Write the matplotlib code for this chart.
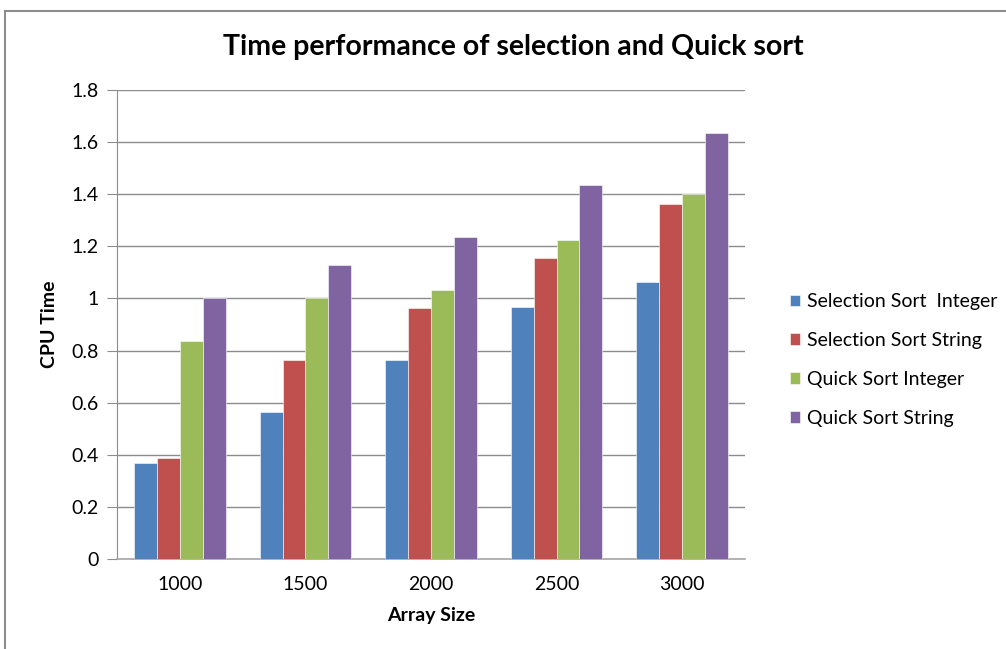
import numpy as np
import matplotlib.pyplot as plt
from matplotlib.lines import Line2D

plt.rcParams["font.family"] = ["Lato", "DejaVu Sans"]

# dane
sizes = ["1000", "1500", "2000", "2500", "3000"]
sel_int = [0.367, 0.564, 0.764, 0.967, 1.063]
sel_str = [0.386, 0.764, 0.963, 1.155, 1.362]
quick_int = [0.837, 1.0, 1.032, 1.224, 1.40]
quick_str = [1.0, 1.128, 1.236, 1.435, 1.636]
y_ticks = [0, 0.2, 0.4, 0.6, 0.8, 1.0, 1.2, 1.4, 1.6, 1.8]
y_labels = ["0", "0.2", "0.4", "0.6", "0.8", "1", "1.2", "1.4", "1.6", "1.8"]

series = [
    ("Selection Sort  Integer", sel_int, "#4F81BD"),
    ("Selection Sort String", sel_str, "#C0504D"),
    ("Quick Sort Integer", quick_int, "#9BBB59"),
    ("Quick Sort String", quick_str, "#8064A2"),
]

fig = plt.figure(figsize=(10.06, 6.49), dpi=100)
ax = fig.add_axes([117 / 1006, 1 - 559 / 649, 628 / 1006, 469 / 649])

x = np.arange(len(sizes))
width = 0.182
for i, (name, vals, col) in enumerate(series):
    ax.bar(x + (i - 1.5) * width, vals, width, color=col, label=name,
           edgecolor="white", linewidth=0.4, zorder=3)

ax.set_xlim(-0.5, len(sizes) - 0.5)
ax.set_ylim(0, 1.8)
ax.set_yticks(y_ticks)
ax.set_yticklabels(y_labels)
ax.set_xticks(x)
ax.set_xticklabels(sizes)
ax.grid(axis="y", color="#8c8c8c", linewidth=1.0, zorder=0)

for s in ["top", "right"]:
    ax.spines[s].set_visible(False)
ax.spines["left"].set_color("#8c8c8c")
ax.spines["bottom"].set_color("#a6a6a6")
ax.spines["bottom"].set_linewidth(1.2)
ax.tick_params(axis="y", length=7, color="#8c8c8c", labelsize=14, pad=6)
ax.tick_params(axis="x", length=0, labelsize=14, pad=12)

ax.set_xlabel("Array Size", fontsize=14, fontweight="bold", labelpad=10)
ax.set_ylabel("CPU Time", fontsize=14, fontweight="bold", labelpad=10)

fig.text(513 / 1006, 1 - 47 / 649, "Time performance of selection and Quick sort",
         ha="center", va="center", fontsize=20.5, fontweight="bold")

ax.legend(loc="center left", bbox_to_anchor=(772 / 1006, 1 - 360 / 649),
          bbox_transform=fig.transFigure, frameon=False, fontsize=14,
          handlelength=0.55, handleheight=0.55, handletextpad=0.35,
          labelspacing=1.12)

# ramka wykresu (lewa i górna krawędź)
fig.add_artist(Line2D([5 / 1006, 5 / 1006], [0, 1 - 11 / 649],
                      transform=fig.transFigure, color="#8c8c8c", linewidth=1.5))
fig.add_artist(Line2D([5 / 1006, 1], [1 - 11 / 649, 1 - 11 / 649],
                      transform=fig.transFigure, color="#8c8c8c", linewidth=1.5))

fig.savefig("out.png", dpi=100)
